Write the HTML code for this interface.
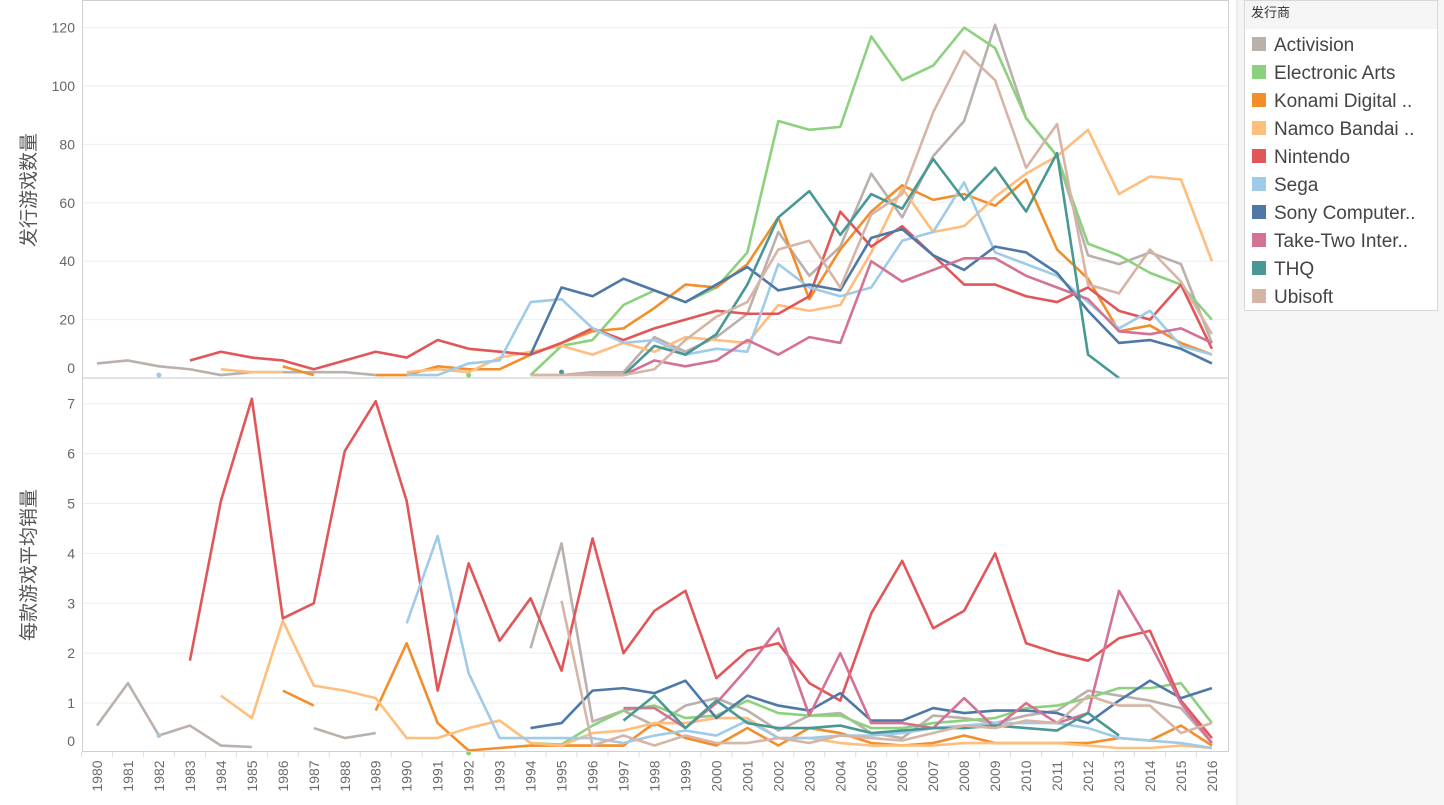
<!DOCTYPE html>
<html><head><meta charset="utf-8">
<style>
html,body{margin:0;padding:0;background:#fff;}
body{width:1444px;height:805px;overflow:hidden;font-family:"Liberation Sans","Noto Sans CJK SC",sans-serif;}
</style></head>
<body>
<svg id="c" width="1444" height="805" xmlns="http://www.w3.org/2000/svg" style="position:absolute;left:0;top:0">
<rect x="1237" y="0" width="207" height="805" fill="#f5f5f5"/>
<line x1="1237" y1="0" x2="1237" y2="805" stroke="#ddd"/>
<rect x="1244.5" y="0.5" width="193" height="310" fill="#fff" stroke="#d8d8d8"/>
<rect x="1245" y="1" width="192" height="28" fill="#f5f5f5"/>
<text x="1251" y="17" font-size="13" fill="#333" font-family="Liberation Sans, Noto Sans CJK SC, sans-serif">发行商</text>
<g id="grid"></g>
<g id="lines"></g>
<rect x="82.5" y="0.5" width="1146" height="751" fill="none" stroke="#d0d0d0"/>
<line x1="82" y1="378" x2="1228" y2="378" stroke="#c8c8c8"/>
<text transform="translate(35,190) rotate(-90)" text-anchor="middle" font-size="19" fill="#555" font-family="Liberation Sans, Noto Sans CJK SC, sans-serif">发行游戏数量</text>
<text transform="translate(35,565) rotate(-90)" text-anchor="middle" font-size="19" fill="#555" font-family="Liberation Sans, Noto Sans CJK SC, sans-serif">每款游戏平均销量</text>
</svg>
<script>
(function(){
const NS="http://www.w3.org/2000/svg";
const svg=document.getElementById('c');
const G=document.getElementById('grid'),L=document.getElementById('lines');
function el(t,a,p,txt){const e=document.createElementNS(NS,t);for(const k in a)e.setAttribute(k,a[k]);if(txt!=null)e.textContent=txt;(p||svg).appendChild(e);return e;}
const X=y=>97+(y-1980)*30.97;
const TY=v=>378-v*2.92, BY=v=>753-v*49.9;
for(let v=20;v<=120;v+=20){el('line',{x1:83,x2:1228,y1:TY(v),y2:TY(v),stroke:'#eee'},G);}
[0,20,40,60,80,100,120].forEach(v=>el('text',{x:75,y:(v==0?368:TY(v))+5,'text-anchor':'end','font-size':14,fill:'#666'},G,v));
for(let v=1;v<=7;v++){el('line',{x1:83,x2:1228,y1:BY(v),y2:BY(v),stroke:'#eee'},G);}
[0,1,2,3,4,5,6,7].forEach(v=>el('text',{x:75,y:(v==0?741:BY(v))+5,'text-anchor':'end','font-size':14,fill:'#666'},G,v));
for(let y=1980;y<=2016;y++){el('line',{x1:X(y)-15.5,x2:X(y)-15.5,y1:752,y2:757,stroke:'#ddd'},G);
 el('text',{transform:`translate(${X(y)+5},776) rotate(-90)`,'text-anchor':'middle','font-size':14,fill:'#6b6b6b'},G,y);}
const C={A:'#bab0ac',E:'#8cd17d',K:'#f28e2b',N:'#ffbe7d',Ni:'#e15759',S:'#a0cbe8',So:'#4e79a7',T:'#d37295',H:'#499894',U:'#d7b5a6'};
function s(start,arr){const o={};arr.forEach((v,i)=>{o[start+i]=v});return o;}
const topData={
A:s(1980,[5,6,4,3,1,2,2,2,2,1,null,null,null,null,1,1,2,2,14,9,14,22,50,35,45,70,55,76,88,121,89,76,42,39,43,39,12]),
E:Object.assign({1992:1},s(1994,[1,11,13,25,30,26,31,43,88,85,86,117,102,107,120,113,89,76,46,42,36,32,20])),
K:s(1986,[4,1,null,1,1,4,3,3,8,12,16,17,24,32,31,39,55,27,44,57,66,61,63,59,68,44,34,16,18,12,8]),
N:s(1984,[3,2,2,null,null,null,2,3,2,7,9,11,8,12,9,14,13,12,25,23,25,43,65,50,52,62,70,76,85,63,69,68,40]),
Ni:s(1983,[6,9,7,6,3,6,9,7,13,10,9,8,12,17,13,17,20,23,22,22,28,57,45,52,42,32,32,28,26,31,23,20,32,10]),
S:Object.assign({1982:1},s(1990,[1,1,5,6,26,27,17,12,13,8,10,9,39,31,28,31,47,50,67,43,39,35,26,17,23,11,8])),
So:s(1994,[8,31,28,34,30,26,32,38,30,32,30,48,51,42,37,45,43,36,23,12,13,10,5]),
T:s(1996,[1,1,6,4,6,13,8,14,12,40,33,37,41,41,35,31,27,16,15,17,12]),
H:Object.assign({1995:2},s(1997,[1,11,8,15,32,55,64,49,63,58,75,61,72,57,77,8,0])),
U:s(1994,[1,1,1,1,3,13,21,26,44,47,31,56,63,91,112,102,72,87,32,29,44,33,15])
};
const botData={
A:s(1980,[0.55,1.4,0.35,0.55,0.15,0.12,null,0.5,0.3,0.4,null,null,null,null,2.1,4.2,0.63,0.85,0.55,0.95,1.1,0.85,0.45,0.75,0.8,0.4,0.3,0.75,0.7,0.6,0.75,0.85,1.25,1.15,1.05,0.9,0.2]),
E:Object.assign({1992:0},s(1994,[0.2,0.17,0.55,0.85,0.95,0.7,0.75,1.05,0.8,0.75,0.75,0.5,0.5,0.6,0.65,0.7,0.9,0.95,1.1,1.3,1.3,1.4,0.6])),
K:s(1986,[1.25,0.95,null,0.85,2.2,0.6,0.05,0.1,0.15,0.15,0.15,0.15,0.6,0.3,0.15,0.5,0.15,0.5,0.4,0.2,0.15,0.2,0.35,0.2,0.2,0.2,0.2,0.3,0.25,0.55,0.15]),
N:s(1984,[1.15,0.7,2.65,1.35,1.25,1.1,0.3,0.3,0.5,0.65,0.2,0.15,0.4,0.45,0.6,0.6,0.7,0.7,0.3,0.3,0.2,0.15,0.15,0.15,0.2,0.2,0.2,0.2,0.15,0.1,0.1,0.15,0.1]),
Ni:s(1983,[1.85,5.05,7.1,2.7,3.0,6.05,7.05,5.05,1.25,3.8,2.25,3.1,1.65,4.3,2.0,2.85,3.25,1.5,2.05,2.2,1.4,1.05,2.8,3.85,2.5,2.85,4.0,2.2,2.0,1.85,2.3,2.45,1.05,0.3]),
S:Object.assign({1982:0.35},s(1990,[2.6,4.35,1.6,0.3,0.3,0.3,0.3,0.2,0.35,0.45,0.35,0.65,0.3,0.3,0.35,0.35,0.4,0.5,0.55,0.6,0.6,0.6,0.5,0.3,0.25,0.2,0.1])),
So:s(1994,[0.5,0.6,1.25,1.3,1.2,1.45,0.7,1.15,0.95,0.85,1.2,0.65,0.65,0.9,0.8,0.85,0.85,0.8,0.6,1.05,1.45,1.1,1.3]),
T:s(1997,[0.9,0.9,0.5,1.0,1.7,2.5,0.75,2.0,0.6,0.6,0.5,1.1,0.5,1.0,0.6,0.8,3.25,2.2,1.0,0.2]),
H:s(1997,[0.65,1.15,0.5,1.05,0.6,0.5,0.5,0.55,0.4,0.45,0.5,0.5,0.55,0.5,0.45,0.8,0.35]),
U:s(1995,[3.05,0.15,0.35,0.15,0.35,0.2,0.2,0.3,0.2,0.35,0.3,0.25,0.4,0.55,0.5,0.65,0.6,1.15,0.95,0.95,0.4,0.6])
};
function draw(data,Y){
 for(const k in data){const d=data[k];let seg=[];const segs=[];
  for(let y=1980;y<=2016;y++){if(d[y]!=null)seg.push([X(y),Y(d[y])]);else if(seg.length){segs.push(seg);seg=[];}}
  if(seg.length)segs.push(seg);
  segs.forEach(sg=>{if(sg.length==1)el('circle',{cx:sg[0][0],cy:sg[0][1],r:2.5,fill:C[k]},L);
   else el('polyline',{points:sg.map(p=>p.join(',')).join(' '),fill:'none',stroke:C[k],'stroke-width':2.6,'stroke-linejoin':'round'},L);});
 }
}
draw(topData,TY);draw(botData,BY);
const names=[['A','Activision'],['E','Electronic Arts'],['K','Konami Digital ..'],['N','Namco Bandai ..'],['Ni','Nintendo'],['S','Sega'],['So','Sony Computer..'],['T','Take-Two Inter..'],['H','THQ'],['U','Ubisoft']];
names.forEach((n,i)=>{const y=44+i*28;el('rect',{x:1252,y:y-7,width:14,height:14,fill:C[n[0]]});
 el('text',{x:1274,y:y+7,'font-size':19,fill:'#444'},null,n[1]);});
})();
</script>
</body></html>
